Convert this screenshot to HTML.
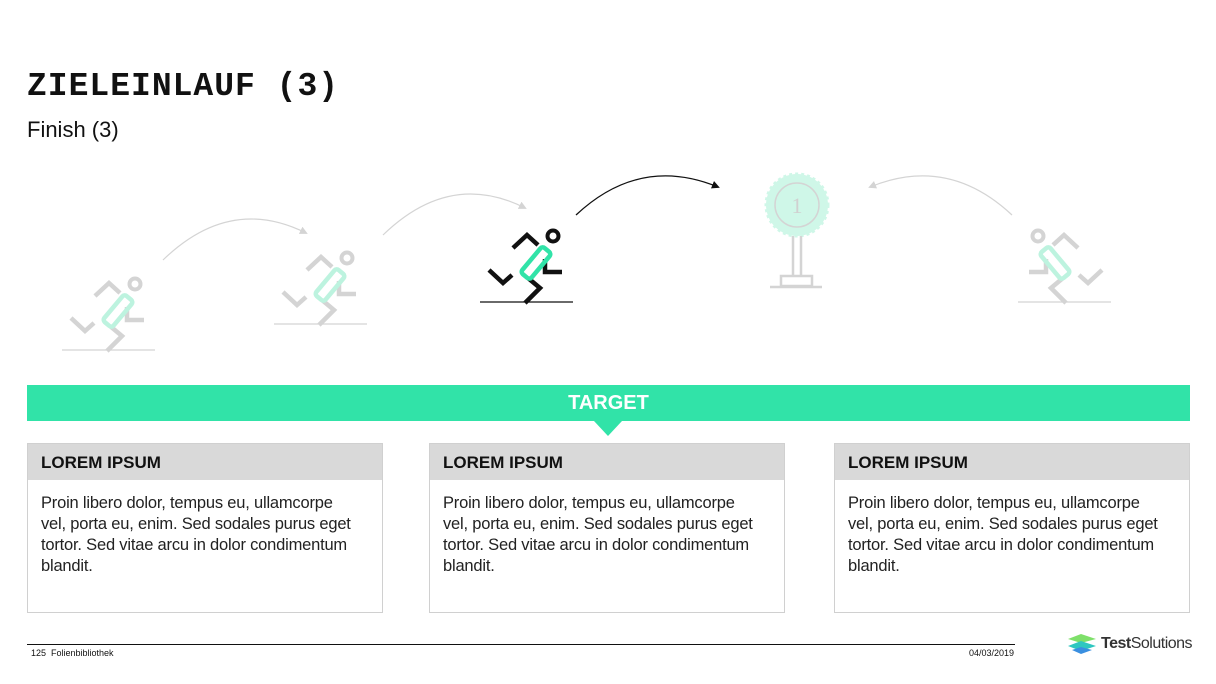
<!DOCTYPE html>
<html><head><meta charset="utf-8"><style>
body{margin:0;width:1216px;height:684px;background:#fff;position:relative;overflow:hidden;font-family:"Liberation Sans",sans-serif;}
.abs{position:absolute;}
.title{left:27px;top:68px;font-family:"Liberation Mono",monospace;font-weight:bold;font-size:33px;color:#111;letter-spacing:1px;}
.sub{left:27px;top:117px;font-size:22px;color:#111;}
.bar{left:27px;top:385px;width:1163px;height:36px;background:#31e3a8;color:#fff;font-weight:bold;font-size:20px;text-align:center;line-height:37px;}
.tri{left:594px;top:421px;width:0;height:0;border-left:14px solid transparent;border-right:14px solid transparent;border-top:15px solid #31e3a8;}
.box{top:443px;width:354px;height:168px;border:1px solid #d0d0d0;background:#fff;}
.box .h{height:36px;background:#d9d9d9;font-weight:bold;font-size:17px;line-height:37px;padding-left:13px;color:#111;}
.box .t{padding:13px 0 0 13px;font-size:16.5px;line-height:21px;color:#222;white-space:nowrap;letter-spacing:-0.2px;}
.foot{font-size:9px;color:#111;}
</style></head><body>
<div class="abs title">ZIELEINLAUF (3)</div>
<div class="abs sub">Finish (3)</div>
<svg class="abs" style="left:0;top:0" width="1216" height="380">
<defs>
<g id="run" fill="none" stroke-width="4.5">
<circle cx="553" cy="236" r="5.5" stroke="var(--k)" stroke-width="4"/>
<polyline points="513,248 527,235 538,245" stroke="var(--k)"/>
<polyline points="545,259 545,272 562,272" stroke="var(--k)"/>
<polyline points="489,270 503,283 512,275" stroke="var(--k)"/>
<polyline points="528,278 540,288 525,303" stroke="var(--k)"/>
<rect x="-6" y="-17" width="12" height="34" rx="3" transform="translate(536,263) rotate(40)" stroke="var(--g)"/>
<line x1="480" y1="302" x2="573" y2="302" stroke-width="1.2" stroke="var(--k)"/>
</g>
<marker id="ab" markerWidth="8" markerHeight="8" refX="6" refY="4" orient="auto" markerUnits="userSpaceOnUse"><path d="M0,0 L8,4 L0,8z" fill="#111"/></marker>
<marker id="ag" markerWidth="8" markerHeight="8" refX="6" refY="4" orient="auto" markerUnits="userSpaceOnUse"><path d="M0,0 L8,4 L0,8z" fill="#d4d4d4"/></marker>
</defs>
<g style="--k:#d4d4d4;--g:#bdf3df" transform="translate(-418,48)"><use href="#run"/></g>
<g style="--k:#d4d4d4;--g:#bdf3df" transform="translate(-206,22)"><use href="#run"/></g>
<g style="--k:#111;--g:#31e3a8"><use href="#run"/></g>
<g style="--k:#d4d4d4;--g:#bdf3df" transform="translate(1591,0) scale(-1,1)"><use href="#run"/></g>
<path d="M163,260 Q230,195 306,233" fill="none" stroke="#d4d4d4" stroke-width="1.2" marker-end="url(#ag)"/>
<path d="M383,235 Q450,170 525,208" fill="none" stroke="#d4d4d4" stroke-width="1.2" marker-end="url(#ag)"/>
<path d="M576,215 Q640,155 718,187" fill="none" stroke="#111" stroke-width="1.3" marker-end="url(#ab)"/>
<path d="M1012,215 Q948,155 870,187" fill="none" stroke="#d4d4d4" stroke-width="1.2" marker-end="url(#ag)"/>
<g>
<circle cx="797" cy="205" r="31" fill="#cff7e8" stroke="#cff7e8" stroke-width="3" stroke-dasharray="3 3"/>
<circle cx="797" cy="205" r="29" fill="#cff7e8"/>
<circle cx="797" cy="205" r="22" fill="none" stroke="#d4d4d4" stroke-width="1.5"/>
<text x="797" y="213" text-anchor="middle" font-family="Liberation Serif,serif" font-size="22" fill="#d0d0d0">1</text>
<g stroke="#d4d4d4" stroke-width="2.5" fill="none">
<line x1="793" y1="236" x2="793" y2="276"/><line x1="801" y1="236" x2="801" y2="276"/>
<rect x="781" y="276" width="31" height="10"/>
<line x1="770" y1="287" x2="822" y2="287"/>
</g></g>
</svg>
<div class="abs bar">TARGET</div>
<div class="abs tri"></div>
<div class="abs box" style="left:27px"><div class="h">LOREM IPSUM</div><div class="t">Proin libero dolor, tempus eu, ullamcorpe<br>vel, porta eu, enim. Sed sodales purus eget<br>tortor. Sed vitae arcu in dolor condimentum<br>blandit.</div></div>
<div class="abs box" style="left:429px"><div class="h">LOREM IPSUM</div><div class="t">Proin libero dolor, tempus eu, ullamcorpe<br>vel, porta eu, enim. Sed sodales purus eget<br>tortor. Sed vitae arcu in dolor condimentum<br>blandit.</div></div>
<div class="abs box" style="left:834px"><div class="h">LOREM IPSUM</div><div class="t">Proin libero dolor, tempus eu, ullamcorpe<br>vel, porta eu, enim. Sed sodales purus eget<br>tortor. Sed vitae arcu in dolor condimentum<br>blandit.</div></div>
<div class="abs" style="left:27px;top:644px;width:988px;height:1px;background:#111"></div>
<div class="abs foot" style="left:31px;top:648px">125&nbsp;&nbsp;Folienbibliothek</div>
<div class="abs foot" style="left:969px;top:648px">04/03/2019</div>
<svg class="abs" style="left:1066px;top:632px" width="34" height="24">
<path d="M2,7 L15,2 L30,7 L15,11z" fill="#7ee06a"/>
<path d="M2,14 L15,9 L30,14 L15,19z" fill="#2fc7c0"/>
<path d="M6,18 L15,15 L26,18 L15,22z" fill="#3a8fe0"/>
</svg>
<div class="abs" style="left:1101px;top:635px;font-size:16px;color:#333;letter-spacing:-0.5px"><b>Test</b>Solutions</div>
</body></html>
